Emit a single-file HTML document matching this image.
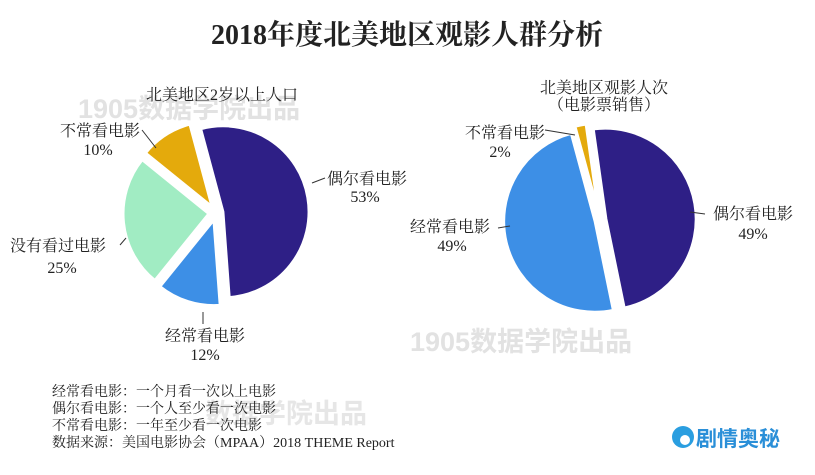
<!DOCTYPE html>
<html><head><meta charset="utf-8"><style>
body{margin:0;background:#fff;}
svg text{font-family:"Liberation Serif","Noto Serif CJK SC",serif;fill:#222;}
</style></head><body>
<svg id="s" width="815" height="470" viewBox="0 0 815 470" xmlns="http://www.w3.org/2000/svg">
<text x="407" y="44" text-anchor="middle" font-size="28" font-weight="bold" fill="#111">2018年度北美地区观影人群分析</text>
<g font-weight="bold" font-size="27">
<text x="78" y="118" style="fill:#e2e2e2;font-family:'Liberation Sans','Noto Sans CJK SC',sans-serif">1905数据学院出品</text>
<text x="410" y="351" style="fill:#e2e2e2;font-family:'Liberation Sans','Noto Sans CJK SC',sans-serif">1905数据学院出品</text>
<text x="205" y="423" style="fill:#e6e6e6;font-family:'Liberation Sans','Noto Sans CJK SC',sans-serif">数据学院出品</text>
</g>
<g id="p"></g>
<g font-size="16">
<text x="222" y="100" text-anchor="middle">北美地区2岁以上人口</text>
<text x="100" y="136" text-anchor="middle">不常看电影</text><text x="98" y="155" text-anchor="middle">10%</text>
<text x="367" y="184" text-anchor="middle">偶尔看电影</text><text x="365" y="202" text-anchor="middle">53%</text>
<text x="58" y="251" text-anchor="middle">没有看过电影</text><text x="62" y="273" text-anchor="middle">25%</text>
<text x="205" y="341" text-anchor="middle">经常看电影</text><text x="205" y="360" text-anchor="middle">12%</text>
<text x="604" y="93" text-anchor="middle">北美地区观影人次</text><text x="604" y="110" text-anchor="middle">（电影票销售）</text>
<text x="505" y="138" text-anchor="middle">不常看电影</text><text x="500" y="157" text-anchor="middle">2%</text>
<text x="753" y="219" text-anchor="middle">偶尔看电影</text><text x="753" y="239" text-anchor="middle">49%</text>
<text x="450" y="232" text-anchor="middle">经常看电影</text><text x="452" y="251" text-anchor="middle">49%</text>
</g>
<g stroke="#333" stroke-width="1" fill="none">
<path d="M142 130 L156 148"/><path d="M312 183 L325 178"/><path d="M120 245 L126 238"/><path d="M203 312 L203 324"/>
<path d="M545 130 L575 135"/><path d="M690 212 L705 214"/><path d="M498 228 L510 226"/>
</g>
<g font-size="14">
<text x="52" y="396">经常看电影：一个月看一次以上电影</text>
<text x="52" y="413">偶尔看电影：一个人至少看一次电影</text>
<text x="52" y="430">不常看电影：一年至少看一次电影</text>
<text x="52" y="447">数据来源：美国电影协会（MPAA）2018 THEME Report</text>
</g>
<circle cx="683" cy="437" r="11" fill="#2a9ee0"/><circle cx="685" cy="440" r="5" fill="#fff"/>
<text x="696" y="446" font-size="21" font-weight="bold" style="fill:#2a8fd8;font-family:'Liberation Sans','Noto Sans CJK SC',sans-serif">剧情奥秘</text>
</svg>
<script>
function pie(cx,cy,r,sl,off){var g=document.getElementById('p');
sl.forEach(function(s){var a0=s[0],a1=s[1],m=(a0+a1)/2*Math.PI/180,o=s[3]||off;
var x=cx+o*Math.sin(m),y=cy-o*Math.cos(m);
function P(a){a=a*Math.PI/180;return (x+r*Math.sin(a)).toFixed(1)+' '+(y-r*Math.cos(a)).toFixed(1);}
var p=document.createElementNS('http://www.w3.org/2000/svg','path');
p.setAttribute('d','M'+x.toFixed(1)+' '+y.toFixed(1)+' L'+P(a0)+' A'+r+' '+r+' 0 '+((a1-a0)>180?1:0)+' 1 '+P(a1)+' Z');
p.setAttribute('fill',s[2]);p.setAttribute('stroke','#fff');p.setAttribute('stroke-width','3');g.appendChild(p);});}
pie(216,213,86,[[-15,175.8,'#2e1f86'],[175.8,219,'#3d8fe6'],[219,309,'#a1ecc3'],[309,345,'#e4aa0c']],7);
pie(600,220,91,[[-8,168.4,'#2e1f86',6],[168.4,344.8,'#3d8fe6',5],[344.8,352,'#e4aa0c',6]],5);
</script>
</body></html>
